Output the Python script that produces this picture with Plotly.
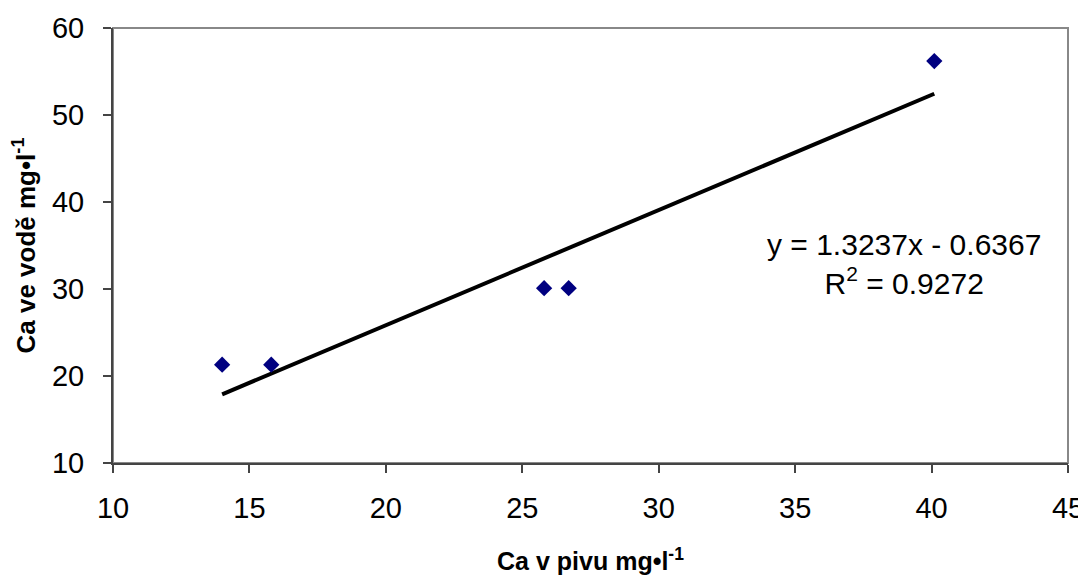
import plotly.graph_objects as go

ca_pivo = [14.0, 15.8, 25.8, 26.7, 40.1]
ca_voda = [21.3, 21.3, 30.1, 30.1, 56.2]
slope = 1.3237
intercept = -0.6367
r2 = 0.9272
x_ticks = [10, 15, 20, 25, 30, 35, 40, 45]
y_ticks = [10, 20, 30, 40, 50, 60]

trend_x = [min(ca_pivo), max(ca_pivo)]
trend_y = [slope * v + intercept for v in trend_x]

FONT = "Liberation Sans, Arial, Helvetica, sans-serif"

fig = go.Figure()
fig.add_trace(go.Scatter(x=trend_x, y=trend_y, mode="lines",
                         line=dict(color="black", width=4), showlegend=False))
fig.add_trace(go.Scatter(x=ca_pivo, y=ca_voda, mode="markers",
                         marker=dict(symbol="diamond", size=12.5, color="#000080"),
                         showlegend=False))

fig.add_annotation(x=0.828, y=0.457, xref="paper", yref="paper",
                   xanchor="center", yanchor="middle",
                   text=f"y = {slope}x - {abs(intercept)}<br>R<sup>2</sup> = {r2}",
                   showarrow=False, align="center",
                   font=dict(family=FONT, size=30, color="black"))

# page body has an 8px margin: compensate so the plot area lands where the reference has it
fig.update_layout(
    width=1078, height=568,
    margin=dict(l=105, r=18, t=20, b=113, autoexpand=False),
    paper_bgcolor="white", plot_bgcolor="white",
    font=dict(family=FONT, color="black"),
    shapes=[dict(type="rect", xref="paper", yref="paper", x0=0, y0=0, x1=1, y1=1,
                 line=dict(color="#888888", width=2), layer="below")],
)
fig.update_xaxes(range=[10, 45], tickvals=x_ticks, showgrid=False, zeroline=False,
                 showline=True, linecolor="#444444", linewidth=2, automargin=False,
                 ticks="outside", ticklen=8, tickcolor="#444444", tickwidth=1.5,
                 tickfont=dict(size=29, family=FONT), ticklabelstandoff=10,
                 title=dict(text="<b>Ca v pivu mg•l<sup>-1</sup></b>",
                            font=dict(size=25, family=FONT), standoff=30))
fig.update_yaxes(range=[10, 60], tickvals=y_ticks, showgrid=False, zeroline=False,
                 showline=True, linecolor="#444444", linewidth=2, automargin=False,
                 ticks="outside", ticklen=8, tickcolor="#444444", tickwidth=1.5,
                 tickfont=dict(size=29, family=FONT), ticklabelstandoff=13,
                 title=dict(text="<b>Ca ve vodě mg•l<sup>-1</sup></b>",
                            font=dict(size=26, family=FONT), standoff=18))

fig.write_html("out.html")
